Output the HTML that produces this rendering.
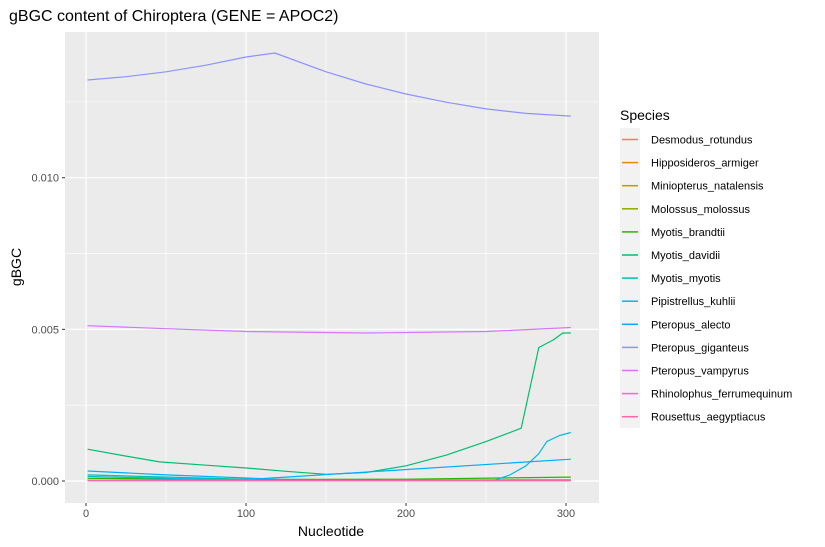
<!DOCTYPE html>
<html><head><meta charset="utf-8"><style>
body{margin:0;background:#fff;font-family:"Liberation Sans",sans-serif}
svg{display:block}
</style></head><body>
<svg id="chart" width="825" height="547">
<text x="9" y="21" font-size="16" fill="#000">gBGC content of Chiroptera (GENE = APOC2)</text>
<rect x="65" y="32" width="534" height="471" fill="#EBEBEB"/>
<g id="grid"></g><g id="series"></g><g id="axes"></g>
<text x="331" y="536" font-size="14" text-anchor="middle">Nucleotide</text>
<text transform="translate(21,267) rotate(-90)" font-size="14" text-anchor="middle">gBGC</text>
<g id="legend"></g>
</svg>
<script>
const species=["Desmodus_rotundus","Hipposideros_armiger","Miniopterus_natalensis","Molossus_molossus","Myotis_brandtii","Myotis_davidii","Myotis_myotis","Pipistrellus_kuhlii","Pteropus_alecto","Pteropus_giganteus","Pteropus_vampyrus","Rhinolophus_ferrumequinum","Rousettus_aegyptiacus"];
const colors=["#F8766D","#E18A00","#BE9C00","#8CAB00","#24B700","#00BE70","#00C1AB","#00BBDA","#00ACFC","#8B93FF","#D575FE","#F962DD","#FF65AC"];
const xTicks=[0,100,200,300];
const yTicks=[0,0.005,0.010];
const yTickLabels=["0.000","0.005","0.010"];
const xs0=[1,303];
const desmodus=[0.00002,0.00002];
const hipposideros=[0.00001,0.00001];
const miniopterus=[0.00002,0.00003];
const molossus=[0.00003,0.00004];
const brandtiiX=[1,100,200,303];
const brandtii=[0.00009,0.00005,0.00006,0.00013];
const davidiiX=[1,25,46,75,100,125,150,175,200,225,250,272,283,292,298,303];
const davidii=[0.00105,0.00082,0.00063,0.00052,0.00043,0.00032,0.00022,0.00028,0.0005,0.00085,0.0013,0.00174,0.0044,0.00465,0.00488,0.00488];
const myotisX=[1,100,200,303];
const myotis=[0.0002,0.00006,0.00003,0.00003];
const pipiX=[1,100,200,255,265,275,283,288,296,303];
const pipi=[0.00015,0.00003,0.00002,0.00002,0.0002,0.0005,0.0009,0.0013,0.0015,0.0016];
const alectoX=[1,50,110,303];
const alecto=[0.00033,0.0002,0.00008,0.00072];
const gigX=[1,25,50,75,100,118,150,175,200,225,250,275,303];
const gig=[0.01322,0.01333,0.01349,0.01371,0.01398,0.01411,0.01349,0.01309,0.01276,0.01249,0.01227,0.01212,0.01203];
const vampX=[1,50,100,175,250,303];
const vamp=[0.00512,0.00502,0.00493,0.00488,0.00493,0.00506];
const rhino=[0.00001,0.00001];
const rousettus=[0.00003,0.00002];
const seriesX=[xs0,xs0,xs0,xs0,brandtiiX,davidiiX,myotisX,pipiX,alectoX,gigX,vampX,xs0,xs0];
const seriesY=[desmodus,hipposideros,miniopterus,molossus,brandtii,davidii,myotis,pipi,alecto,gig,vamp,rhino,rousettus];
const X=v=>86+1.6*v;
const Y=v=>481-30.33*v*1000;
const NS="http://www.w3.org/2000/svg";
function mk(tag,attrs,parent){const e=document.createElementNS(NS,tag);for(const k in attrs)e.setAttribute(k,attrs[k]);parent.appendChild(e);return e;}
const grid=document.getElementById('grid'),axes=document.getElementById('axes'),ser=document.getElementById('series'),leg=document.getElementById('legend');
for(let i=0;i<xTicks.length;i++){
 if(i<xTicks.length-1){const m=mk('line',{x1:X((xTicks[i]+xTicks[i+1])/2),x2:X((xTicks[i]+xTicks[i+1])/2),y1:32,y2:503,stroke:'#fff','stroke-width':0.6},grid);
 }
 const g=mk('line',{x1:X(xTicks[i]),x2:X(xTicks[i]),y1:32,y2:503,stroke:'#fff','stroke-width':1.2},grid);
 
 const t=mk('line',{x1:X(xTicks[i]),x2:X(xTicks[i]),y1:503,y2:506,stroke:'#333'},axes);
 
 const l=mk('text',{x:X(xTicks[i]),y:517,'font-size':11,'text-anchor':'middle',fill:'#4D4D4D'},axes);l.textContent=xTicks[i];
 
}
const minorY=[-0.0025,0.0025,0.0075,0.0125];
minorY.forEach(v=>{const m=mk('line',{x1:65,x2:599,y1:Y(v),y2:Y(v),stroke:'#fff','stroke-width':0.6},grid);
 });
for(let i=0;i<yTicks.length;i++){
 const g=mk('line',{x1:65,x2:599,y1:Y(yTicks[i]),y2:Y(yTicks[i]),stroke:'#fff','stroke-width':1.2},grid);
 
 const t=mk('line',{x1:62,x2:65,y1:Y(yTicks[i]),y2:Y(yTicks[i]),stroke:'#333'},axes);
 
 const l=mk('text',{x:59,y:Y(yTicks[i])+4,'font-size':11,'text-anchor':'end',fill:'#4D4D4D'},axes);l.textContent=yTickLabels[i];
 
}
for(let s=0;s<species.length;s++){
 const pts=seriesX[s].map((x,i)=>X(x).toFixed(1)+','+Y(seriesY[s][i]).toFixed(1)).join(' ');
 const p=mk('polyline',{points:pts,fill:'none',stroke:colors[s],'stroke-width':1.2,'stroke-linejoin':'round'},ser);
 
}
const lt=mk('text',{x:620,y:120,'font-size':14},leg);lt.textContent='Species';

const lb=mk('rect',{x:620,y:128,width:20,height:300,fill:'#F2F2F2'},leg);

for(let s=0;s<species.length;s++){
 const y=139.5+23.1*s;
 const k=mk('line',{x1:622,x2:638,y1:y,y2:y,stroke:colors[s],'stroke-width':1.5},leg);
 
 const t=mk('text',{x:651,y:y+4,'font-size':11,fill:'#000'},leg);t.textContent=species[s];
 
}
</script>
</body></html>
